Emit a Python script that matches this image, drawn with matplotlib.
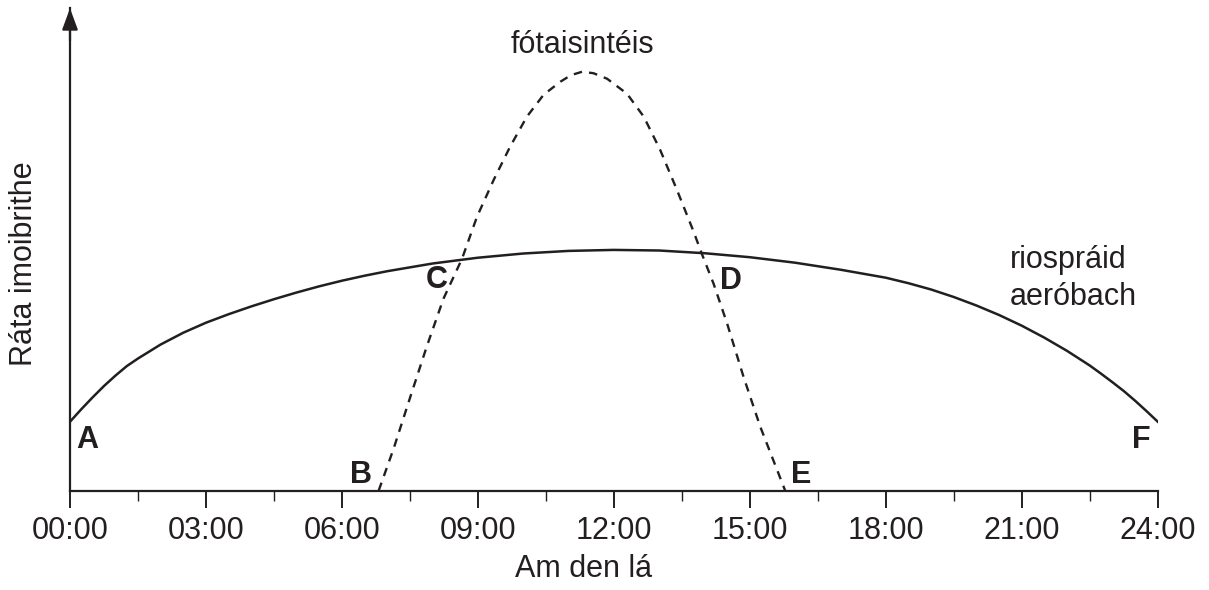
import matplotlib
matplotlib.use("Agg")
import matplotlib.pyplot as plt

plt.rcParams['font.family'] = ['Liberation Sans', 'DejaVu Sans']

# riospráid aeróbach (uair, ráta)
uair_riosp = [0, 0.25, 0.5, 0.75, 1.0, 1.25, 1.5, 2.0, 2.5, 3.0, 3.5, 4.0, 4.5, 5.0, 5.5,
              6.0, 6.5, 7.0, 8.0, 9.0, 10.0, 11.0, 12.0, 13.0, 14.0, 15.0, 16.0, 17.0,
              18.0, 18.5, 19.0, 19.5, 20.0, 20.5, 21.0, 21.5, 22.0, 22.5, 22.75, 23.0,
              23.25, 23.5, 23.75, 24.0]
rata_riosp = [0.69, 0.815, 0.934, 1.047, 1.150, 1.245, 1.322, 1.462, 1.580, 1.680, 1.765,
              1.843, 1.915, 1.982, 2.044, 2.100, 2.150, 2.195, 2.272, 2.330, 2.372, 2.398,
              2.408, 2.402, 2.375, 2.335, 2.280, 2.210, 2.130, 2.075, 2.012, 1.937, 1.852,
              1.757, 1.650, 1.530, 1.398, 1.252, 1.170, 1.085, 0.997, 0.900, 0.797, 0.69]

# fótaisintéis
uair_fota = [6.81, 7.14, 7.51, 7.87, 8.24, 8.65, 8.98, 9.35, 9.71, 10.08, 10.45, 10.82,
             11.05, 11.30, 11.55, 11.85, 12.29, 12.66, 13.02, 13.39, 13.76, 13.94, 14.20,
             14.50, 14.86, 15.23, 15.78]
rata_fota = [0.0, 0.42, 0.94, 1.44, 1.92, 2.32, 2.74, 3.11, 3.44, 3.74, 3.96, 4.09,
             4.155, 4.19, 4.175, 4.12, 3.97, 3.74, 3.41, 3.01, 2.59, 2.37, 2.07,
             1.67, 1.14, 0.64, 0.0]

tick_uair = [0, 3, 6, 9, 12, 15, 18, 21, 24]
tick_lipeid = ["00:00", "03:00", "06:00", "09:00", "12:00", "15:00", "18:00", "21:00", "24:00"]
mion_uair = [1.5, 4.5, 7.5, 10.5, 13.5, 16.5, 19.5, 22.5]

litreacha = ["A", "B", "C", "D", "E", "F"]
litir_x = [0.38, 6.42, 8.10, 14.59, 16.14, 23.64]
litir_y = [0.51, 0.16, 2.11, 2.10, 0.16, 0.51]

dath = "#231f20"

fig = plt.figure(figsize=(12.09, 5.90), dpi=100)
ax = fig.add_axes([0.0579, 0.1683, 0.8997, 0.8176])

ax.plot(uair_riosp, rata_riosp, color=dath, lw=1.8, solid_joinstyle="round")
ax.plot(uair_fota, rata_fota, color=dath, lw=1.7, linestyle=(0, (3.6, 3.0)))

ax.set_xlim(0, 24)
ax.set_ylim(0, 4.824)

for s in ["top", "right"]:
    ax.spines[s].set_visible(False)
for s in ["bottom", "left"]:
    ax.spines[s].set_linewidth(1.6)
    ax.spines[s].set_color(dath)

# saighead ar an ais-y
ax.annotate("", xy=(0, 4.824), xytext=(0, 4.5),
            arrowprops=dict(arrowstyle="-|>,head_length=1.3,head_width=0.48",
                            color=dath, lw=1.6, shrinkA=0, shrinkB=0),
            annotation_clip=False)

ax.set_xticks(tick_uair)
ax.set_xticklabels(tick_lipeid, fontsize=22, color=dath)
ax.set_xticks(mion_uair, minor=True)
ax.tick_params(axis="x", which="major", length=12, width=1.4, color=dath, pad=6)
ax.tick_params(axis="x", which="minor", length=7, width=1.0, color=dath)
ax.set_yticks([])

fig.text(584 / 1209, 1 - 569 / 590, "Am den lá", fontsize=22, color=dath,
         ha="center", va="center")
fig.text(24 / 1209, 1 - 264 / 590, "Ráta imoibrithe", fontsize=22, color=dath,
         ha="center", va="center", rotation=90)

ax.text(11.3, 4.46, "fótaisintéis", fontsize=22, color=dath, ha="center", va="center")
ax.text(20.73, 2.227, "riospráid", fontsize=22, color=dath, ha="left", va="baseline")
ax.text(20.73, 1.857, "aeróbach", fontsize=22, color=dath, ha="left", va="baseline")

for l, x, y in zip(litreacha, litir_x, litir_y):
    ax.text(x, y, l, fontsize=22, fontweight="bold", color=dath, ha="center", va="center")

fig.savefig("out.png", dpi=100)
